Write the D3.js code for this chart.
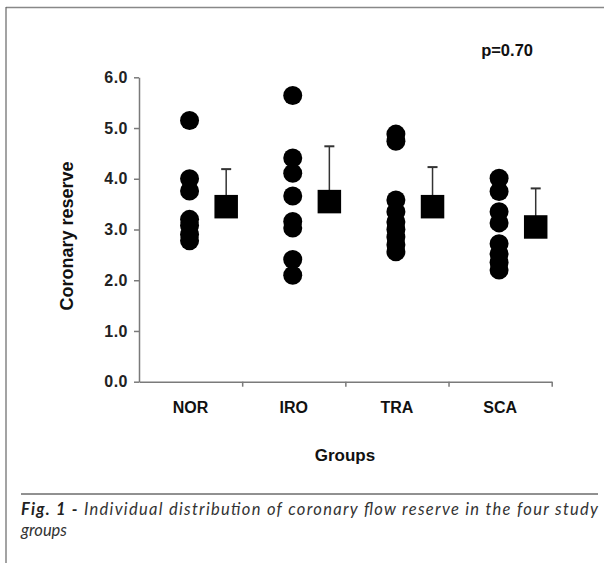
<!DOCTYPE html>
<html>
<head>
<meta charset="utf-8">
<script src="https://cdn.jsdelivr.net/npm/d3@7"></script>
<style>
  body { margin: 0; background: #fff; }
  svg { display: block; }
  .axis path, .axis line { stroke: #7a7a7a; stroke-width: 1.5; }
  .axis text { font-family: "Liberation Sans", Arial, sans-serif; font-weight: bold; font-size: 16px; fill: #222; }
</style>
</head>
<body>
<svg id="chart" width="604" height="563"></svg>
<script>
// groups on the x axis
var groups = ["NOR", "IRO", "TRA", "SCA"];

// individual coronary reserve values
var norValues = [5.15, 4.0, 3.76, 3.2, 3.08, 2.9, 2.78];
var iroValues = [5.64, 4.41, 4.11, 3.66, 3.16, 3.03, 2.41, 2.1];
var traValues = [4.88, 4.74, 3.58, 3.35, 3.15, 3.0, 2.85, 2.7, 2.56];
var scaValues = [4.01, 3.75, 3.35, 3.13, 2.72, 2.52, 2.35, 2.2];

// mean and mean + SD for each group
var means = [3.45, 3.55, 3.45, 3.05];
var sdTops = [4.19, 4.64, 4.23, 3.81];

var yTicks = [0, 1, 2, 3, 4, 5, 6];

var svg = d3.select("#chart");

// frame of the figure
svg.append("line").attr("x1", 6).attr("x2", 604).attr("y1", 7.5).attr("y2", 7.5)
  .attr("stroke", "#888").attr("stroke-width", 1.5);
svg.append("line").attr("x1", 6).attr("x2", 6).attr("y1", 7).attr("y2", 563)
  .attr("stroke", "#666").attr("stroke-width", 1.2);

var y = d3.scaleLinear().domain([0, 6]).range([381.7, 77.3]);
var x = d3.scaleBand().domain(groups).range([139, 551.7]).padding(0);
var xi = d3.scaleLinear().domain([0, 4]).range([139, 551.7]);

var yAxis = svg.append("g").attr("class", "axis")
  .attr("transform", "translate(139,0)")
  .call(d3.axisLeft(y).tickValues(yTicks).tickFormat(d3.format(".1f")).tickSize(5).tickSizeOuter(0).tickPadding(6));
yAxis.selectAll("text").style("letter-spacing", "0.5px");

var xAxis = svg.append("g").attr("class", "axis")
  .attr("transform", "translate(0," + y(0) + ")")
  .call(d3.axisBottom(xi).tickValues([1, 2, 3, 4]).tickFormat("").tickSize(5).tickSizeOuter(0));

// category labels
svg.selectAll(".cat").data(groups).enter().append("text")
  .attr("class", "cat")
  .attr("x", function(d) { return x(d) + x.bandwidth() / 2; })
  .attr("y", 413)
  .attr("text-anchor", "middle")
  .style("font-family", "Liberation Sans, Arial, sans-serif")
  .style("font-weight", "bold")
  .style("font-size", "16px")
  .style("fill", "#111")
  .text(function(d) { return d; });

// axis titles
svg.append("text")
  .attr("x", 345).attr("y", 461)
  .attr("text-anchor", "middle")
  .style("font-family", "Liberation Sans, Arial, sans-serif")
  .style("font-weight", "bold").style("font-size", "17px").style("fill", "#111")
  .text("Groups");

svg.append("text")
  .attr("transform", "translate(73,236) rotate(-90)")
  .attr("text-anchor", "middle")
  .style("font-family", "Liberation Sans, Arial, sans-serif")
  .style("font-weight", "bold").style("font-size", "18px").style("fill", "#111")
  .text("Coronary reserve");

svg.append("text")
  .attr("x", 533).attr("y", 56)
  .attr("text-anchor", "end")
  .style("font-family", "Liberation Sans, Arial, sans-serif")
  .style("font-weight", "bold").style("font-size", "16.5px").style("fill", "#111")
  .text("p=0.70");

// individual dots
var allValues = [norValues, iroValues, traValues, scaValues];
var points = [];
allValues.forEach(function(vals, i) {
  vals.forEach(function(v) { points.push({ group: groups[i], value: v }); });
});

svg.selectAll(".dot").data(points).enter().append("circle")
  .attr("class", "dot")
  .attr("cx", function(d) { return x(d.group) + x.bandwidth() * 0.49; })
  .attr("cy", function(d) { return y(d.value); })
  .attr("r", 9.5)
  .attr("fill", "#000");

// mean + SD
var stats = groups.map(function(g, i) { return { group: g, mean: means[i], top: sdTops[i] }; });
var sqX = function(d) { return x(d.group) + x.bandwidth() * 0.845; };
var sq = 23.5;

svg.selectAll(".sd").data(stats).enter().append("line")
  .attr("class", "sd")
  .attr("x1", sqX).attr("x2", sqX)
  .attr("y1", function(d) { return y(d.mean); })
  .attr("y2", function(d) { return y(d.top); })
  .attr("stroke", "#333").attr("stroke-width", 1.5);

svg.selectAll(".cap").data(stats).enter().append("line")
  .attr("class", "cap")
  .attr("x1", function(d) { return sqX(d) - 5; })
  .attr("x2", function(d) { return sqX(d) + 5; })
  .attr("y1", function(d) { return y(d.top); })
  .attr("y2", function(d) { return y(d.top); })
  .attr("stroke", "#333").attr("stroke-width", 2);

svg.selectAll(".mean").data(stats).enter().append("rect")
  .attr("class", "mean")
  .attr("x", function(d) { return sqX(d) - sq / 2; })
  .attr("y", function(d) { return y(d.mean) - sq / 2; })
  .attr("width", sq).attr("height", sq)
  .attr("fill", "#000");

// caption
svg.append("line").attr("x1", 21).attr("x2", 598).attr("y1", 494).attr("y2", 494)
  .attr("stroke", "#222").attr("stroke-width", 1);

var cap = svg.append("text")
  .attr("x", 21).attr("y", 515)
  .attr("textLength", 577).attr("lengthAdjust", "spacing")
  .style("font-family", "Lato, 'Open Sans', sans-serif")
  .style("font-style", "italic").style("font-size", "16.5px").style("fill", "#333");
cap.append("tspan").style("font-weight", "bold").style("fill", "#222").text("Fig. 1 -");
cap.append("tspan").text(" Individual distribution of coronary flow reserve in the four study");

svg.append("text")
  .attr("x", 21).attr("y", 536)
  .style("font-family", "Lato, 'Open Sans', sans-serif")
  .style("font-style", "italic").style("font-size", "16.5px").style("fill", "#333")
  .text("groups");
</script>
</body>
</html>
